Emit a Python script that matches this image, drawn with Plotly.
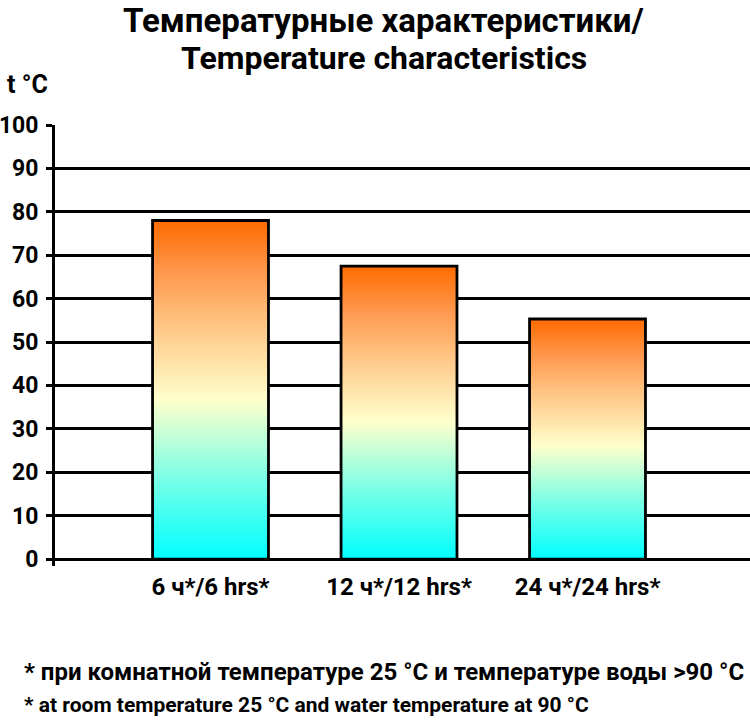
import plotly.graph_objects as go

# data
categories = ["6 ч*/6 hrs*", "12 ч*/12 hrs*", "24 ч*/24 hrs*"]
temps = [78, 67.5, 55.3]
y_ticks = [0, 10, 20, 30, 40, 50, 60, 70, 80, 90, 100]

FONT = "Roboto, Liberation Sans, sans-serif"
bar_w = 0.615
grad = [[0, "#00FFFF"], [0.22, "#70FFE8"], [0.47, "#FFFFCC"],
        [0.68, "#FFC888"], [0.84, "#FF9A50"], [1, "#FF6A00"]]

fig = go.Figure()
for i, (cat, t) in enumerate(zip(categories, temps)):
    x0, x1 = i - bar_w / 2, i + bar_w / 2
    fig.add_trace(go.Scatter(
        x=[x0, x0, x1, x1, x0], y=[0, t, t, 0, 0],
        mode="lines", fill="toself",
        fillgradient=dict(type="vertical", colorscale=grad),
        line=dict(color="black", width=2.8),
        name=cat, showlegend=False, hoverinfo="skip"))

fig.update_layout(
    width=750, height=725,
    margin=dict(l=55, r=0, t=125, b=159),
    paper_bgcolor="white", plot_bgcolor="white",
    font=dict(family=FONT, color="black"),
)
fig.update_xaxes(range=[-0.825, 2.862], tickvals=[0, 1, 2],
                 ticktext=["<b>%s</b>" % c for c in categories],
                 showgrid=False, zeroline=False, showline=False, ticks="",
                 automargin=False, ticklabelstandoff=4,
                 tickfont=dict(size=24, family=FONT))
fig.update_yaxes(range=[-1.6, 100], tickvals=y_ticks,
                 ticktext=["<b>%d</b>" % v for v in y_ticks],
                 showgrid=True, gridcolor="black", gridwidth=2.8,
                 zeroline=False, showline=True, linecolor="black", linewidth=2.8,
                 ticks="outside", ticklen=6, tickwidth=2.8, tickcolor="black",
                 automargin=False, ticklabelstandoff=3,
                 tickfont=dict(size=23, family=FONT))

# two-line title
fig.add_annotation(text="<b>Температурные характеристики/</b>", xref="paper", yref="paper",
                   x=0.473, y=1.238, xanchor="center", yanchor="middle",
                   showarrow=False, font=dict(size=33, family=FONT))
fig.add_annotation(text="<b>Temperature characteristics</b>", xref="paper", yref="paper",
                   x=0.473, y=1.152, xanchor="center", yanchor="middle",
                   showarrow=False, font=dict(size=32, family=FONT))
fig.add_annotation(text="<b>t °C</b>", xref="paper", yref="paper",
                   x=-0.072, y=1.091, xanchor="left", yanchor="middle",
                   showarrow=False, font=dict(size=25, family=FONT))
fig.add_annotation(text="<b>* при комнатной температуре 25 °C и температуре воды >90 °C</b>",
                   xref="paper", yref="paper", x=-0.0475, y=-0.240,
                   xanchor="left", yanchor="middle", showarrow=False,
                   font=dict(size=24, family=FONT))
fig.add_annotation(text="<b>* at room temperature 25 °C and water temperature at 90 °C</b>",
                   xref="paper", yref="paper", x=-0.0475, y=-0.315,
                   xanchor="left", yanchor="middle", showarrow=False,
                   font=dict(size=21, family=FONT))

# drop the default body margin so the 750x725 figure fills the window
fig.write_html("out.html", config={"displayModeBar": False},
               post_script="document.body.style.margin='0';")
